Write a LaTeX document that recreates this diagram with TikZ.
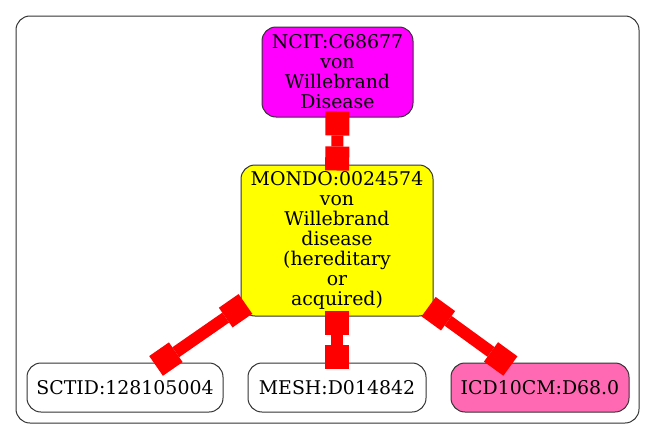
\documentclass[tikz,border=0pt]{standalone}
\usepackage{fontspec}
\setmainfont{DejaVu Serif}
\usetikzlibrary{arrows.meta}
\definecolor{termLine}{HTML}{333333}
\definecolor{ncitFill}{HTML}{FF00FF}
\definecolor{mondoFill}{HTML}{FFFF00}
\definecolor{icdFill}{HTML}{FF69B4}
\definecolor{linkRed}{HTML}{FF0000}
\begin{document}
\begin{tikzpicture}[x=1pt,y=-1pt,
          every node/.style={font=\fontsize{18.9pt}{20pt}\selectfont,
                             align=center,inner sep=0pt},
          term/.style={draw=termLine,line width=1pt,rounded corners=14pt,
                       fill=white},
          link/.style={draw=linkRed,line width=12pt,
                       {Square[length=24pt,width=24pt,line width=0pt]}-{Square[length=24pt,width=24pt,line width=0pt]},
                       shorten <=-6pt,shorten >=-6pt},
        ]
        \useasboundingbox (0,0) rectangle (656,439);
        % outer frame
        \draw[termLine,line width=1pt,rounded corners=14pt] (16,16) rectangle (639,423);
        % terms
        \node[term,fill=ncitFill,minimum width=151pt,minimum height=90pt]
              (ncit) at (337.5,72) {NCIT:C68677\\von\\Willebrand\\Disease};
        \node[term,fill=mondoFill,minimum width=192pt,minimum height=151pt]
              (mondo) at (337,240.5) {MONDO:0024574\\von\\Willebrand\\disease\\(hereditary\\or\\acquired)};
        \node[term,minimum width=196pt,minimum height=49pt]
              (sctid) at (125,387.5) {SCTID:128105004};
        \node[term,minimum width=178pt,minimum height=49pt]
              (mesh) at (337,387.5) {MESH:D014842};
        \node[term,fill=icdFill,minimum width=178pt,minimum height=49pt]
              (icd) at (540,387.5) {ICD10CM:D68.0};
        % links
        \draw[link] (ncit) -- (mondo);
        \draw[link] (mondo) -- (sctid);
        \draw[link] (mondo) -- (mesh);
        \draw[link] (mondo) -- (icd);
      \end{tikzpicture}
\end{document}
